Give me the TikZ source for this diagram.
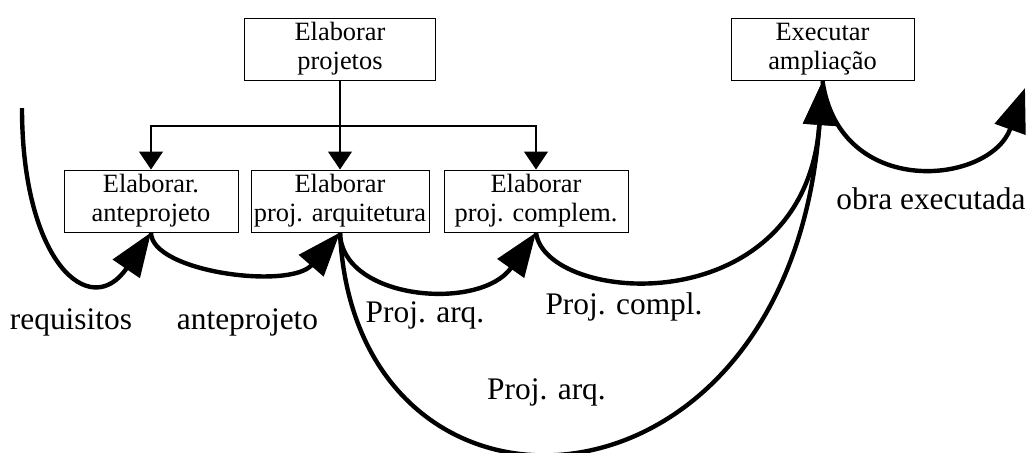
\documentclass[tikz,border=0pt]{standalone}
\usepackage{fontspec}
\setmainfont{Liberation Serif}
\usetikzlibrary{arrows.meta}
\begin{document}
\begin{tikzpicture}[x=0.5pt, y=-0.5pt,
    caixa/.style={draw, line width=0.5pt, inner sep=0pt, align=center,
      font=\fontsize{13.2}{14.5}\selectfont, minimum height=31pt},
    fina/.style={line width=0.7pt, -{Triangle[width=12pt, length=9pt]}},
    fluxo/.style={line width=2.2pt, -{Triangle[width=16pt, length=22pt]}},
    rotulo/.style={anchor=base, font=\fontsize{15.7}{18}\selectfont}]
  \useasboundingbox (0,0) rectangle (1029,452);
  \node[caixa, minimum width=95.5pt] (topo) at (340,49) {Elaborar\\projetos};
  \node[caixa, minimum width=91.5pt] (exec) at (822.5,49.5) {Executar\\ampliação};
  \node[caixa, minimum width=87pt] (ante) at (151,201) {Elaborar.\\anteprojeto};
  \node[caixa, minimum width=89pt] (arq) at (340,201) {Elaborar\\proj. arquitetura};
  \node[caixa, minimum width=92pt] (compl) at (536,201) {Elaborar\\proj. complem.};
  \coordinate (ramo) at (340,126);
  \draw[line width=0.7pt] (topo.south) -- (ramo);
  \draw[fina] (ramo) -| (ante.north);
  \draw[fina] (ramo) -- (arq.north);
  \draw[fina] (ramo) -| (compl.north);
  \coordinate (entrada) at (22,108);
  \coordinate (saida) at (1025,88);
  \draw[fluxo] (entrada) .. controls (22,262) and (90,322) .. (ante.south);
  \draw[fluxo] (ante.south) .. controls (151,272) and (290,290) .. (arq.south);
  \draw[fluxo] (arq.south) .. controls (341,300) and (480,312) .. (compl.south);
  \draw[fluxo] (arq.south) .. controls (355,555) and (790,535) .. (exec.south);
  \draw[fluxo] (compl.south) .. controls (545,305) and (805,325) .. (exec.south);
  \draw[fluxo] (exec.south) .. controls (840,200) and (990,185) .. (saida);
  \node[rotulo] (lreq) at (71,329) {requisitos};
  \node[rotulo] (lante) at (247.5,329) {anteprojeto};
  \node[rotulo] (larq) at (425,322) {Proj. arq.};
  \node[rotulo] (lcompl) at (624,314) {Proj. compl.};
  \node[rotulo] (larq2) at (546.5,399) {Proj. arq.};
  \node[rotulo] (lobra) at (931,209) {obra executada};
\end{tikzpicture}
\end{document}
